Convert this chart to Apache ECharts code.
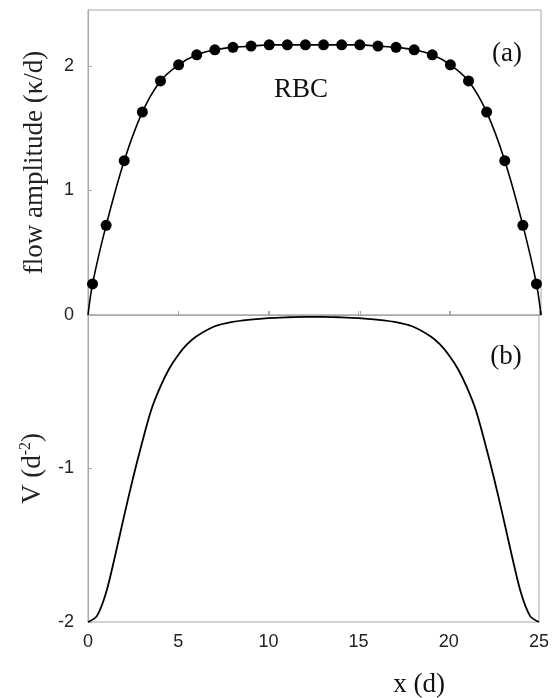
<!DOCTYPE html>
<html>
<head>
<meta charset="UTF-8">
<title>RBC flow amplitude</title>
<script src="https://cdn.jsdelivr.net/npm/echarts@6/dist/echarts.min.js"></script>
<style>
  html, body { margin: 0; padding: 0; background: #fff; }
  #main { width: 552px; height: 698px; }
</style>
</head>
<body>
<div id="main"></div>
<script>
// (a) flow amplitude, measured points
var ampX = [0.25, 1, 2, 3, 4, 5, 6, 7, 8, 9, 10, 11, 12, 13, 14, 15, 16, 17, 18, 19, 20, 21, 22, 23, 24, 24.75];
var ampY = [0.25, 0.72, 1.24, 1.63, 1.88, 2.01, 2.09, 2.13, 2.15, 2.16, 2.17, 2.17, 2.17, 2.17, 2.17, 2.17, 2.16, 2.15, 2.13, 2.09, 2.01, 1.88, 1.63, 1.24, 0.72, 0.25];
// curve through them, pinned to zero at the walls
var curveX = [0].concat(ampX, [25]);
var curveY = [0].concat(ampY, [0]);

// (b) potential V
var vX = [0, 0.5, 1, 1.5, 2, 2.5, 3, 3.5, 4, 4.5, 5, 5.5, 6, 7, 8, 9, 10, 11, 12, 12.5,
          13, 14, 15, 16, 17, 18, 19, 19.5, 20, 20.5, 21, 21.5, 22, 22.5, 23, 23.5, 24, 24.5, 25];
var vY = [-2, -1.96, -1.81, -1.57, -1.31, -1.06, -0.83, -0.62, -0.47, -0.35, -0.26, -0.19, -0.14, -0.075, -0.045, -0.03, -0.02, -0.015, -0.012, -0.012,
          -0.012, -0.015, -0.02, -0.03, -0.045, -0.075, -0.14, -0.19, -0.26, -0.35, -0.47, -0.62, -0.83, -1.06, -1.31, -1.57, -1.81, -1.96, -2];

var xTicks = [0, 5, 10, 15, 20, 25];

function pairs(xs, ys) {
  var out = [];
  for (var i = 0; i < xs.length; i++) out.push([xs[i], ys[i]]);
  return out;
}

var frame = '#a8a8a8';
var sans = '"Liberation Sans", Arial, sans-serif';
var serif = '"Liberation Serif", "Times New Roman", serif';

var tickStyle = { show: true, inside: true, length: 4, lineStyle: { color: frame, width: 1 } };
var lineStyle = { show: true, lineStyle: { color: frame, width: 1 } };

var option = {
  animation: false,
  backgroundColor: '#fff',
  grid: [
    { left: 88, right: 11, top: 10, height: 305, show: true, borderColor: frame, borderWidth: 1 },
    { left: 88, right: 11, top: 315, height: 307, show: true, borderColor: frame, borderWidth: 1 }
  ],
  xAxis: [
    { type: 'value', gridIndex: 0, min: 0, max: 25, interval: 5,
      axisLine: lineStyle, axisTick: tickStyle, axisLabel: { show: false }, splitLine: { show: false } },
    { type: 'value', gridIndex: 1, min: 0, max: 25, interval: 5,
      axisLine: lineStyle, axisTick: tickStyle, splitLine: { show: false },
      axisLabel: { margin: 11, fontFamily: sans, fontSize: 18, color: '#222',
        formatter: function (v) { return xTicks.indexOf(v) >= 0 ? String(v) : ''; } } }
  ],
  yAxis: [
    { type: 'value', gridIndex: 0, min: 0, max: 2.45, interval: 1,
      axisLine: lineStyle, axisTick: tickStyle, splitLine: { show: false },
      axisLabel: { margin: 14, fontFamily: sans, fontSize: 18, color: '#222', showMaxLabel: false },
      name: 'flow amplitude (\u03ba/d)', nameLocation: 'middle', nameGap: 40,
      nameTextStyle: { fontFamily: serif, fontSize: 27, color: '#222' } },
    { type: 'value', gridIndex: 1, min: -2, max: 0, interval: 1,
      axisLine: lineStyle, axisTick: tickStyle, splitLine: { show: false },
      axisLabel: { margin: 14, fontFamily: sans, fontSize: 18, color: '#222', showMaxLabel: false },
      name: '{n|V (d}{s|-2}{n|)}', nameLocation: 'middle', nameGap: 40,
      nameTextStyle: { fontFamily: serif, fontSize: 27, color: '#222',
        rich: {
          n: { fontFamily: serif, fontSize: 27, color: '#222' },
          s: { fontFamily: serif, fontSize: 16, color: '#222', verticalAlign: 'top', padding: [0, 0, 14, 0] }
        } } }
  ],
  graphic: [
    { type: 'text', x: 301, y: 90, style: { text: 'RBC', font: '27px ' + serif, fill: '#111', align: 'center', verticalAlign: 'middle' } },
    { type: 'text', x: 507, y: 54, style: { text: '(a)', font: '27px ' + serif, fill: '#111', align: 'center', verticalAlign: 'middle' } },
    { type: 'text', x: 506, y: 357, style: { text: '(b)', font: '27px ' + serif, fill: '#111', align: 'center', verticalAlign: 'middle' } },
    { type: 'text', x: 419, y: 685, style: { text: 'x (d)', font: '27px ' + serif, fill: '#111', align: 'center', verticalAlign: 'middle' } }
  ],
  series: [
    { type: 'line', xAxisIndex: 0, yAxisIndex: 0, data: pairs(curveX, curveY),
      smooth: 0.3, showSymbol: false, lineStyle: { color: '#000', width: 1.6 }, z: 2 },
    { type: 'scatter', xAxisIndex: 0, yAxisIndex: 0, data: pairs(ampX, ampY),
      symbol: 'circle', symbolSize: 11, itemStyle: { color: '#000', opacity: 1 }, z: 3 },
    { type: 'line', xAxisIndex: 1, yAxisIndex: 1, data: pairs(vX, vY),
      smooth: 0.3, showSymbol: false, lineStyle: { color: '#000', width: 1.8 }, z: 2 }
  ]
};

var chart = echarts.init(document.getElementById('main'));
chart.setOption(option);
</script>
</body>
</html>
